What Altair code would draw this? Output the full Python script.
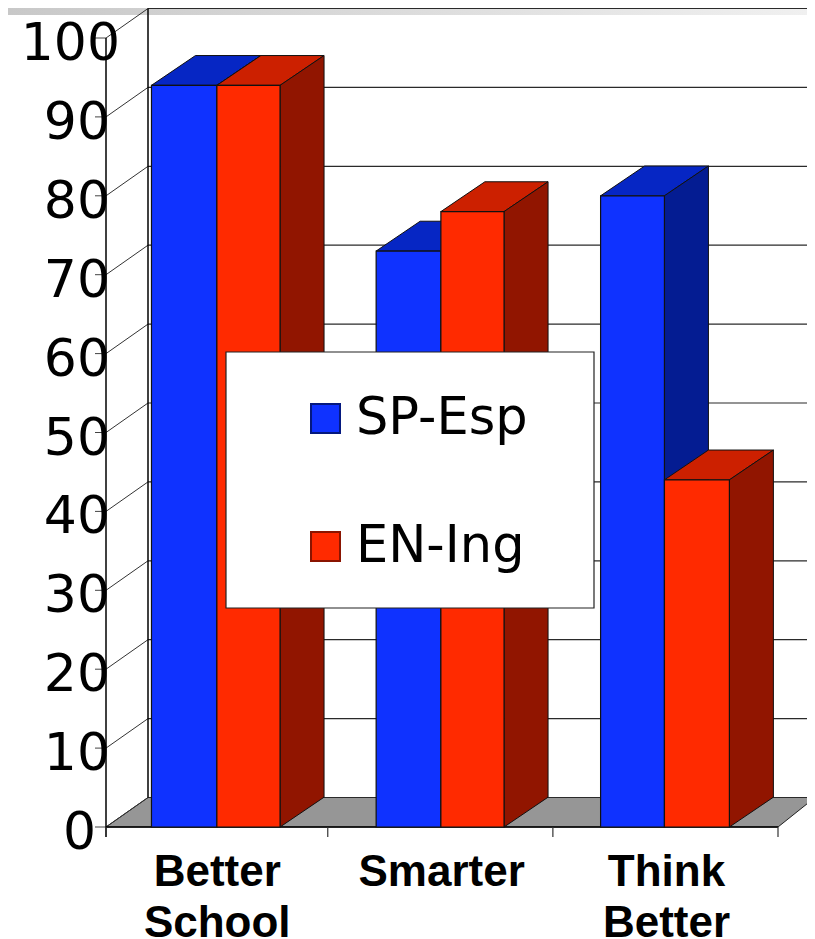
import altair as alt
import pandas as pd

# ---- chart values ----
categories = ["Better\nSchool", "Smarter", "Think\nBetter"]
series = ["SP-Esp", "EN-Ing"]
sp_values = [94, 73, 80]
en_values = [94, 78, 44]
y_ticks = [0, 10, 20, 30, 40, 50, 60, 70, 80, 90, 100]
x_ticks = [0, 0.99, 1.995, 3.0]
bar_left = [0.203, 1.206, 2.208]
bar_split = [0.495, 1.495, 2.493]
bar_right = [0.777, 1.777, 2.783]

# ---- layout (screen pixels) ----
W, H = 799, 931
X0, Y0 = 106.0, 827.0
UX, UY = 224.0, 7.89
xdom = [(8 - X0) / UX, (807 - X0) / UX]
ydom = [(Y0 - 939) / UY, (Y0 - 8) / UY]
xs = alt.Scale(domain=xdom, range=[0, W], nice=False, zero=False)
ys = alt.Scale(domain=ydom, range=[H, 0], nice=False, zero=False)
WDX, WDY = 42.0 / UX, 29.5 / UY
BDX, BDY = 44.0 / UX, 29.8 / UY
XRIGHT = (815 - X0) / UX
XEND = x_ticks[-1]

X = lambda f="x": alt.X(f"{f}:Q", scale=xs, axis=None)
Y = lambda f="y": alt.Y(f"{f}:Q", scale=ys, axis=None)

def rules(rows, color="#111111", width=1.0):
    return alt.Chart(pd.DataFrame(rows)).mark_line(color=color, strokeWidth=width).encode(
        x=X(), y=Y(), detail="id:N"
    )

def seg(rows, a, b, c, d, i):
    rows.append({"id": i, "x": a, "y": b})
    rows.append({"id": i, "x": c, "y": d})

# top gradient strip
strip = alt.Chart(pd.DataFrame({"a": [0]})).mark_rect(
    color=alt.Gradient(gradient="linear", x1=0, x2=1, y1=0, y2=0,
                       stops=[alt.GradientStop(color="#c8c8c8", offset=0),
                              alt.GradientStop(color="#f0f0f0", offset=1)])
).encode(x=alt.value(0), x2=alt.value(W), y=alt.value(0), y2=alt.value(7))

# floor
floor = alt.Chart(pd.DataFrame([
    {"y": 0, "x": 0, "x2": XEND},
    {"y": WDY, "x": WDX, "x2": XRIGHT},
])).mark_area(orient="horizontal", fill="#969696", stroke="#222222", strokeWidth=1).encode(
    y=Y(), x=X(), x2=alt.X2("x2:Q")
)

# grid on the back wall, diagonals on the side wall
grid_rows, diag_rows, tick_rows = [], [], []
for v in y_ticks:
    seg(grid_rows, WDX, v + WDY, XRIGHT, v + WDY, v)
    seg(diag_rows, 0, v, WDX, v + WDY, v)
    seg(tick_rows, -11 / UX, v, 0, v, v)
grid = rules(grid_rows, "#2a2a2a", 1.2)
diag = rules(diag_rows, "#333333", 1.0)
yticks = rules(tick_rows, "#444444", 1.0)

# axes and walls
wall_rows, xt_rows = [], []
seg(wall_rows, WDX, WDY, WDX, 100 + WDY, "back")
seg(wall_rows, 0, -10 / UY, 0, 100, "front")
seg(wall_rows, 0, 0, XEND, 0, "base")
for i, t in enumerate(x_ticks):
    seg(xt_rows, t, 0, t, -10 / UY, i)
walls = rules(wall_rows, "#000000", 1.5)
xticks = rules(xt_rows, "#333333", 1.2)

# bars
rows = []
for i in range(3):
    rows.append({"s": series[0], "l": bar_left[i], "r": bar_split[i], "v": sp_values[i], "i": i})
    rows.append({"s": series[1], "l": bar_split[i], "r": bar_right[i], "v": en_values[i], "i": i})
bars = pd.DataFrame(rows)
shades = {
    series[0]: ("#0F32FF", "#0626C4", "#041C92"),
    series[1]: ("#FF2A00", "#CC2000", "#911500"),
}
cscale = alt.Scale(domain=series, range=[shades[series[0]][0], shades[series[1]][0]])
sscale = alt.Scale(domain=series, range=["#04187e", "#8a1400"])
legend = alt.Legend(
    orient="none", legendX=292, legendY=385, title=None, symbolType="square",
    symbolSize=840, symbolStrokeWidth=2, symbolOpacity=1, labelFont="DejaVu Sans",
    labelFontSize=51, labelColor="#000000", labelOffset=5, rowPadding=76,
    padding=0, labelLimit=400,
)

bar_layers = []
for name in series:
    d = bars[bars.s == name]
    front_c, top_c, side_c = shades[name]
    top = []
    side = []
    for _, b in d.iterrows():
        top += [{"id": b.i, "y": b.v, "x": b.l, "x2": b.r},
                {"id": b.i, "y": b.v + BDY, "x": b.l + BDX, "x2": b.r + BDX}]
        side += [{"id": b.i, "x": b.r, "y": b.v, "y2": 0},
                 {"id": b.i, "x": b.r + BDX, "y": b.v + BDY, "y2": BDY}]
    bar_layers.append(alt.Chart(pd.DataFrame(top)).mark_area(
        orient="horizontal", fill=top_c, stroke="#111111", strokeWidth=1
    ).encode(y=Y(), x=X(), x2=alt.X2("x2:Q"), detail="id:N"))
    bar_layers.append(alt.Chart(pd.DataFrame(side)).mark_area(
        orient="vertical", fill=side_c, stroke="#111111", strokeWidth=1
    ).encode(x=X(), y=Y(), y2=alt.Y2("y2:Q"), detail="id:N"))
    bar_layers.append(alt.Chart(d.assign(z=0)).mark_rect(strokeWidth=0).encode(
        x=X("l"), x2=alt.X2("r:Q"), y=Y("v"), y2=alt.Y2("z:Q"),
        color=alt.Color("s:N", scale=cscale, legend=legend),
        stroke=alt.Stroke("s:N", scale=sscale, legend=legend),
    ))
    bar_layers.append(alt.Chart(d.assign(z=0)).mark_rect(
        fillOpacity=0, stroke="#111111", strokeWidth=1.2
    ).encode(x=X("l"), x2=alt.X2("r:Q"), y=Y("v"), y2=alt.Y2("z:Q")))

# legend box
box = alt.Chart(pd.DataFrame({"a": [0]})).mark_rect(
    fill="#ffffff", stroke="#222222", strokeWidth=1.2
).encode(x=alt.value(218), x2=alt.value(586), y=alt.value(344), y2=alt.value(600))

# y labels
ylab = pd.DataFrame({"v": y_ticks, "t": [str(v) for v in y_ticks],
                     "x": [((120 if v == 100 else 96 if v == 0 else 110) - X0) / UX for v in y_ticks]})
ylabels = alt.Chart(ylab).mark_text(
    font="DejaVu Sans", fontSize=52, align="right", baseline="alphabetic", dy=22, color="#000000"
).encode(x=X(), y=Y("v"), text="t:N")

# x labels
xlab = pd.DataFrame({"c": categories,
                     "x": [(bar_left[i] + bar_right[i]) / 2 + 1.5 / UX for i in range(3)]})
xlabels = alt.Chart(xlab).mark_text(
    font="Liberation Sans", fontWeight="bold", fontSize=44, align="center",
    baseline="alphabetic", lineBreak="\n", lineHeight=51, color="#000000"
).encode(x=X(), y=alt.value(878), text="c:N")

chart = alt.layer(
    strip, floor, grid, diag, yticks, walls, xticks, *bar_layers, box, ylabels, xlabels
).resolve_scale(x="shared", y="shared").properties(
    width=W, height=H, padding=0, autosize=alt.AutoSizeParams(type="none")
).configure_view(stroke=None)

chart.save("out.html", embed_options={"renderer": "svg", "actions": False})
